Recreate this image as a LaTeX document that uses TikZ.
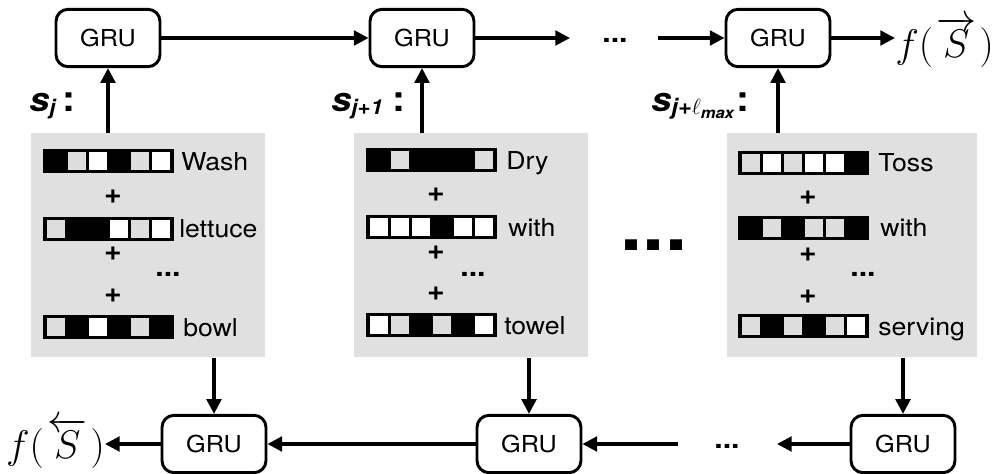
\RequirePackage{fix-cm}
\documentclass[tikz,border=0pt]{standalone}
\usepackage{fontspec}
\setmainfont[FakeStretch=1.08]{TeX Gyre Heros}
\usetikzlibrary{arrows.meta}
\definecolor{panelgray}{HTML}{E0E0E0}
\definecolor{cellgray}{HTML}{DDDDDD}

% one-hot style word vector: six cells on a black bar
\newcommand{\wordvec}[3]{%
  \fill[black] (#1,#2) rectangle ++(131,24);
  \foreach \c [count=\i from 0] in {#3}{
    \fill[\c] ({#1+2.5+\i*21+1.2},{#2+2.7}) rectangle ({#1+2.5+(\i+1)*21-1.2},{#2+21.3});
  }%
}

\begin{document}
\begin{tikzpicture}[x=0.75pt,y=-0.75pt,
  gru/.style={draw,line width=2.2pt,rounded corners=9pt,minimum width=78pt,
    minimum height=43pt,inner sep=0pt,font=\fontsize{17.5}{17.5}\selectfont},
  panel/.style={fill=panelgray,inner sep=0pt,anchor=north west,minimum height=168pt},
  conn/.style={line width=2.3pt,-{Triangle[length=11pt,width=11pt]}},
  word/.style={anchor=base west,inner sep=0pt,font=\fontsize{18.5}{18.5}\selectfont},
  sym/.style={inner sep=0pt,font=\fontsize{21}{21}\selectfont\bfseries},
  slab/.style={anchor=base west,inner sep=0pt},
  mathlab/.style={inner sep=0pt,font=\fontsize{30}{30}\selectfont}]
\useasboundingbox (0,0) rectangle (996,474);

% sentence panels
\node[panel,minimum width=175.5pt] (p1) at (31,133) {};
\node[panel,minimum width=175.5pt] (p2) at (354,133) {};
\node[panel,minimum width=187.5pt] (p3) at (727,133) {};

% word vectors, panel 1
\wordvec{43}{149}{black,cellgray,white,black,cellgray,white}
\wordvec{43}{217}{cellgray,black,black,white,cellgray,white}
\wordvec{43}{315}{cellgray,black,white,black,cellgray,black}
\node[word] (w11) at (181,171) {Wash};
\node[word] (w12) at (179,238) {lettuce};
\node[word] (w13) at (183,336) {bowl};
\node[sym] (a11) at (113,197) {+};
\node[sym] (a12) at (113,254) {+};
\node[sym] (d1) at (168,274) {...};
\node[sym] (a13) at (113,296) {+};

% word vectors, panel 2
\wordvec{366}{148}{black,cellgray,black,black,black,cellgray}
\wordvec{366}{215}{white,white,white,black,white,white}
\wordvec{366}{313}{white,cellgray,black,cellgray,black,white}
\node[word] (w21) at (506,170) {Dry};
\node[word] (w22) at (508,236) {with};
\node[word] (w23) at (504,334) {towel};
\node[sym] (a21) at (436,195) {+};
\node[sym] (a22) at (436,253) {+};
\node[sym] (d2) at (473,274) {...};
\node[sym] (a23) at (436,294) {+};

% word vectors, panel 3
\wordvec{738}{151}{cellgray,white,cellgray,white,white,black}
\wordvec{738}{216}{black,cellgray,black,cellgray,cellgray,black}
\wordvec{738}{314}{cellgray,black,cellgray,black,cellgray,white}
\node[word] (w31) at (878,172) {Toss};
\node[word] (w32) at (880,237) {with};
\node[word] (w33) at (878,335) {serving};
\node[sym] (a31) at (808,198) {+};
\node[sym] (a32) at (808,255) {+};
\node[sym] (d3) at (863,274) {...};
\node[sym] (a33) at (808,297) {+};

% gap between panels
\node[inner sep=0pt,font=\fontsize{55}{55}\selectfont\bfseries] (mid) at (654,245) {...};

% sentence labels
\node[slab] (s1) at (29,112) {{\fontsize{25}{25}\selectfont\bfseries\itshape s}\raisebox{-2pt}{\fontsize{15.5}{15.5}\selectfont\bfseries\itshape j}\hspace{5pt}{\fontsize{27}{27}\selectfont\bfseries :}};
\node[slab] (s2) at (331,112) {{\fontsize{25}{25}\selectfont\bfseries\itshape s}\raisebox{-2pt}{\fontsize{15.5}{15.5}\selectfont\bfseries\itshape j+1}\hspace{7pt}{\fontsize{27}{27}\selectfont\bfseries :}};
\node[slab] (s3) at (651,112) {{\fontsize{25}{25}\selectfont\bfseries\itshape s}\raisebox{-2pt}{\fontsize{16.5}{16.5}\selectfont\bfseries\itshape j+$\ell$\raisebox{-3pt}{\fontsize{11.5}{11.5}\selectfont max}}\hspace{2pt}{\fontsize{27}{27}\selectfont\bfseries :}};

% forward GRU chain
\node[gru] (g1) at (108,38) {GRU};
\node[gru] (g2) at (422,38) {GRU};
\node[gru] (g3) at (778,38) {GRU};
\coordinate (t1) at (570,38);
\coordinate (t2) at (658,38);
\node[sym] (td) at (615,40) {...};
\node[mathlab,anchor=base west] (fr) at (895,58) {$f(\mkern1.5mu\overrightarrow{S}\mkern1.5mu)$};

\draw[conn] (g1.east) -- (g2.west);
\draw[conn] (g2.east) -- (t1);
\draw[conn] (t2) -- (g3.west);
\draw[conn] (g3.east) -- (g3.east -| fr.west);

\draw[conn] (g1.south |- p1.north) -- (g1.south);
\draw[conn] (g2.south |- p2.north) -- (g2.south);
\draw[conn] (g3.south |- p3.north) -- (g3.south);

% backward GRU chain
\node[gru] (b1) at (214,444) {GRU};
\node[gru] (b2) at (529,444) {GRU};
\node[gru] (b3) at (903,444) {GRU};
\coordinate (u1) at (777,444);
\coordinate (u2) at (678,444);
\node[sym] (bd) at (727,446) {...};
\node[mathlab,anchor=base east] (fl) at (105,458) {$f(\mkern1.5mu\overleftarrow{S}\mkern1.5mu)$};

\draw[conn] (b1.north |- p1.south) -- (b1.north);
\draw[conn] (b2.north |- p2.south) -- (b2.north);
\draw[conn] (b3.north |- p3.south) -- (b3.north);

\draw[conn] (b3.west) -- (u1);
\draw[conn] (u2) -- (b2.east);
\draw[conn] (b2.west) -- (b1.east);
\draw[conn] (b1.west) -- (b1.west -| fl.east);
\end{tikzpicture}
\end{document}
